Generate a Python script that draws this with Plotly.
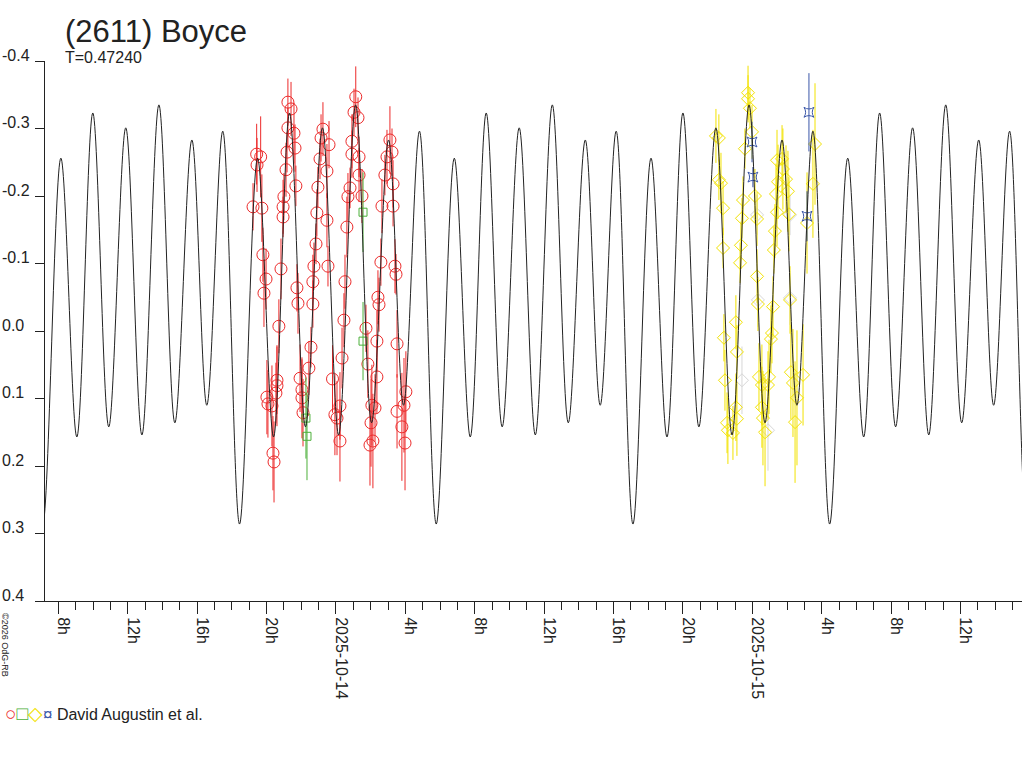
import numpy as np
import pandas as pd
import plotly.graph_objects as go

title = "(2611) Boyce"
period_label = "T=0.47240"
observer = "David Augustin et al."
credit = "\u00a92026 OdG-RB"

base_date = pd.Timestamp("2025-10-14 00:00")
period_days = 0.47240
curve_epoch_h = 5.78   # a deep minimum, hours after base_date

# one cycle of the fitted curve: extrema (hours after the deep minimum, mag)
curve_phase_h = [0.0, 1.04, 1.96, 2.88, 3.80, 4.78, 5.71, 6.69, 7.61, 8.59, 9.45, 10.37]
curve_mag = [0.286, -0.256, 0.157, -0.323, 0.142, -0.301, 0.154, -0.335, 0.136, -0.283, 0.110, -0.296]

# observations, hours after base_date / relative mag / error
red_h = [-4.57, -4.34, -4.55, -4.78, -4.27, -4.21, -4.03, -4.15,
         -2.77, -2.59, -2.77, -2.42, -2.82, -2.36, -2.88, -2.31, -3.00, -3.05, -3.05, -3.17, -2.25,
         -0.75, -0.86, -0.92, -0.52, -1.04, -1.10, -0.52, -1.15, -1.27, -1.33, -0.46, -0.40,
         -3.29, -2.19, -1.33, -1.44, -1.56, -2.07, -1.96, -1.96, -1.90,
         -3.40, -3.40, -3.46, -3.98, -3.92, -3.69, -3.63, -3.57,
         1.14, 1.04, 1.27, 0.92, 0.92, 1.33, 1.33, 0.81, 0.69, 1.50, 0.63, 0.52,
         3.11, 3.23, 2.94, 2.82, 3.29, 2.65, 3.29, 2.59, 3.40, 3.46, 2.42,
         0.46, 0.35, -0.20, 0.23, -0.06, 0.06, 0.23,
         2.48, 1.73, 2.36, 1.84, 2.36, 2.07, 2.25, 2.02, 2.13, 1.96,
         3.52, 4.03, 3.52, 3.92, 3.80, 3.98]
red_mag = [-0.262, -0.258, -0.246, -0.184, -0.182, -0.113, -0.077, -0.056,
           -0.339, -0.329, -0.301, -0.293, -0.265, -0.271, -0.239, -0.215, -0.199, -0.184, -0.169, -0.092, -0.064,
           -0.299, -0.286, -0.255, -0.237, -0.213, -0.175, -0.164, -0.129, -0.096, -0.073, -0.096, -0.276,
           -0.007, -0.041, -0.040, 0.024, 0.055, 0.070, 0.087, 0.099, 0.121,
           0.073, 0.081, 0.092, 0.098, 0.108, 0.111, 0.181, 0.194,
           -0.347, -0.324, -0.316, -0.281, -0.262, -0.258, -0.231, -0.212, -0.199, -0.200, -0.154, -0.073,
           -0.283, -0.265, -0.258, -0.231, -0.218, -0.185, -0.185, -0.102, -0.096, -0.084, -0.050,
           -0.016, 0.040, 0.071, 0.111, 0.124, 0.129, 0.163,
           -0.039, -0.004, 0.015, 0.049, 0.068, 0.110, 0.114, 0.136, 0.163, 0.169,
           0.019, 0.090, 0.119, 0.110, 0.142, 0.166]
red_err = [0.045, 0.06, 0.04, 0.035, 0.05, 0.04, 0.045, 0.05,
           0.035, 0.04, 0.03, 0.045, 0.03, 0.035, 0.04, 0.03, 0.035, 0.04, 0.03, 0.045, 0.035,
           0.04, 0.035, 0.03, 0.04, 0.03, 0.035, 0.04, 0.03, 0.035, 0.04, 0.03, 0.035,
           0.04, 0.045, 0.035, 0.03, 0.04, 0.05, 0.045, 0.06, 0.05,
           0.05, 0.06, 0.045, 0.055, 0.05, 0.06, 0.055, 0.06,
           0.045, 0.035, 0.03, 0.04, 0.035, 0.03, 0.04, 0.03, 0.035, 0.04, 0.045, 0.04,
           0.05, 0.035, 0.04, 0.03, 0.035, 0.04, 0.03, 0.035, 0.04, 0.03, 0.04,
           0.04, 0.045, 0.05, 0.05, 0.06, 0.055, 0.06,
           0.04, 0.035, 0.045, 0.05, 0.055, 0.06, 0.05, 0.065, 0.07, 0.06,
           0.05, 0.06, 0.055, 0.07, 0.08, 0.07]

green_h = [1.56, 1.56, -1.73, -1.67]
green_mag = [-0.176, 0.015, 0.129, 0.156]
green_err = [0.059, 0.058, 0.06, 0.065]

yellow_h = [21.90, 22.07, 22.07, 22.19, 22.31, 22.31, 23.75, 23.75, 23.86, 23.98,
            23.57, 23.46, 24.15, 23.40, 24.27, 23.34, 23.29, 24.27, 25.71, 25.42,
            25.76, 25.94, 25.48, 25.36, 26.05, 25.42, 26.11, 25.30, 25.24, 27.61,
            27.49, 27.15, 24.32, 25.19, 23.05, 26.17, 22.36, 23.11, 25.13, 25.07,
            22.42, 24.38, 24.96, 24.55, 24.90, 26.22, 26.34, 26.92, 23.05, 23.11,
            22.54, 22.59, 22.88, 24.55, 24.61, 24.73, 26.46, 26.57]
yellow_mag = [-0.289, -0.286, -0.224, -0.219, -0.182, -0.123, -0.353, -0.344, -0.330, -0.295,
              -0.270, -0.194, -0.200, -0.167, -0.166, -0.127, -0.101, -0.081, -0.255, -0.253,
              -0.240, -0.225, -0.221, -0.203, -0.207, -0.176, -0.173, -0.148, -0.120, -0.277,
              -0.218, -0.160, -0.040, -0.036, -0.013, -0.046, 0.010, 0.031, 0.003, 0.012,
              0.073, 0.068, 0.068, 0.080, 0.080, 0.061, 0.077, 0.065, 0.113, 0.130,
              0.136, 0.147, 0.151, 0.113, 0.129, 0.150, 0.135, 0.099]
yellow_err = [0.04, 0.035, 0.03, 0.045, 0.04, 0.03, 0.04, 0.035, 0.03, 0.04,
              0.03, 0.035, 0.04, 0.03, 0.04, 0.035, 0.03, 0.04, 0.05, 0.045,
              0.06, 0.05, 0.055, 0.045, 0.06, 0.05, 0.055, 0.04, 0.035, 0.09,
              0.08, 0.075, 0.04, 0.045, 0.04, 0.05, 0.035, 0.04, 0.045, 0.05,
              0.045, 0.05, 0.055, 0.06, 0.05, 0.07, 0.08, 0.075, 0.05, 0.055,
              0.045, 0.05, 0.04, 0.06, 0.07, 0.08, 0.09, 0.1]

grey_h = [24.27, 26.17, 24.32, 26.17, 23.40, 24.90]
grey_mag = [-0.172, -0.172, -0.046, -0.049, 0.073, 0.147]
grey_err = [0.03, 0.03, 0.04, 0.04, 0.05, 0.06]

blue_h = [23.98, 24.03, 27.26, 27.15]
blue_mag = [-0.280, -0.228, -0.324, -0.170]
blue_err = [0.03, 0.015, 0.058, 0.037]

xrange_h = [-16.77, 39.54]
xtick_h = [-16, -12, -8, -4, 0, 4, 8, 12, 16, 20, 24, 28, 32, 36]
xtick_text = ["8h", "12h", "16h", "20h", "2025-10-14", "4h", "8h", "12h",
              "16h", "20h", "2025-10-15", "4h", "8h", "12h"]
ytick_vals = [-0.4, -0.3, -0.2, -0.1, 0.0, 0.1, 0.2, 0.3, 0.4]
ytick_text = ["-0.4", "-0.3", "-0.2", "-0.1", "0.0", "0.1", "0.2", "0.3", "0.4"]

FONT = "Liberation Sans, Arial, sans-serif"
INK = "#222222"


def to_time(hours):
    return base_date + pd.to_timedelta(np.asarray(hours, dtype=float), unit="h")


# repeat the one-cycle extrema over the time span
period_h = period_days * 24
curve_h = []
curve_y = []
for k in range(-3, 4):
    for ph, m in zip(curve_phase_h, curve_mag):
        curve_h.append(curve_epoch_h + k * period_h + ph)
        curve_y.append(m)

fig = go.Figure()


def add_obs(h, mag, err, symbol, size, color):
    # open symbols take their stroke colour from marker.color
    fig.add_trace(go.Scatter(
        x=to_time(h), y=mag, mode="markers",
        marker=dict(symbol=symbol, size=size, color=color, line=dict(width=1)),
        error_y=dict(type="data", array=err, color=color, thickness=1, width=0),
        showlegend=False, hoverinfo="x+y"))


add_obs(grey_h, grey_mag, grey_err, "diamond-open", 10, "#d6d6d6")
add_obs(yellow_h, yellow_mag, yellow_err, "diamond-open", 10, "#f2e200")
add_obs(red_h, red_mag, red_err, "circle-open", 12, "#ec2a2a")
add_obs(green_h, green_mag, green_err, "square-open", 8, "#4cb03a")
add_obs(blue_h, blue_mag, blue_err, "star-square-open", 9, "#3a56a8")

fig.add_trace(go.Scatter(
    x=to_time(curve_h), y=curve_y, mode="lines",
    line=dict(color=INK, width=1, shape="spline", smoothing=1),
    showlegend=False, hoverinfo="skip"))

annotations = []
for v, t in zip(ytick_vals, ytick_text):
    annotations.append(dict(text=t, xref="paper", x=-45 / 977, xanchor="left",
                            yref="y", y=v, yanchor="middle", yshift=6,
                            showarrow=False, font=dict(size=16, color=INK, family=FONT)))

annotations.append(dict(text=period_label, xref="paper", x=20 / 977, xanchor="left", xshift=-2,
                        yref="paper", y=1.0065, yanchor="middle", showarrow=False,
                        font=dict(size=16, color=INK, family=FONT)))
annotations.append(dict(text=credit, xref="paper", x=-40 / 977, xanchor="center",
                        yref="paper", y=-44 / 540, yanchor="middle", textangle=90,
                        showarrow=False, font=dict(size=9, color=INK, family=FONT)))
legend_text = ("<span style='color:#ec2a2a;font-size:19px'>\u25cb</span>"
               "<span style='color:#4cb03a;font-size:19px'>\u25a1</span>"
               "<span style='color:#f2e200;font-size:19px'>\u25c7</span>"
               "<span style='color:#3a56a8;font-size:17px'>\u00a4</span> " + observer)
annotations.append(dict(text=legend_text, xref="paper", x=-42 / 977, xanchor="left",
                        yref="paper", y=-112 / 540, yanchor="middle", showarrow=False,
                        font=dict(size=16, color=INK, family=FONT)))

fig.update_layout(
    width=1024, height=768,
    margin=dict(l=45, r=2, t=61, b=167),
    paper_bgcolor="white", plot_bgcolor="white",
    title=dict(text=title, xref="container", x=65 / 1024, xanchor="left",
               yref="container", y=1 - 31 / 768, yanchor="middle",
               font=dict(size=31, color=INK, family=FONT)),
    xaxis=dict(
        type="date", range=list(to_time(xrange_h)),
        tickmode="array", tickvals=list(to_time(xtick_h)), ticktext=xtick_text,
        tickangle=90, ticks="outside", ticklen=12, tickcolor=INK, tickwidth=1,
        ticklabelshift=5,
        tickfont=dict(size=16, color=INK, family=FONT),
        showline=True, linecolor=INK, linewidth=1,
        showgrid=False, zeroline=False,
        minor=dict(ticks="outside", ticklen=8, tickcolor=INK, tickwidth=1,
                   tick0=base_date, dtick=3600000, showgrid=False),
    ),
    yaxis=dict(
        range=[0.4, -0.4], tickmode="array", tickvals=ytick_vals,
        showticklabels=False,
        ticks="outside", ticklen=9, tickcolor=INK, tickwidth=1,
        showline=True, linecolor=INK, linewidth=1,
        showgrid=False, zeroline=False,
    ),
    annotations=annotations,
)

# the page body has an 8px default margin; drop it so the figure sits at (0, 0)
fig.write_html("out.html", config={"displayModeBar": False},
               post_script="document.body.style.margin='0';")
